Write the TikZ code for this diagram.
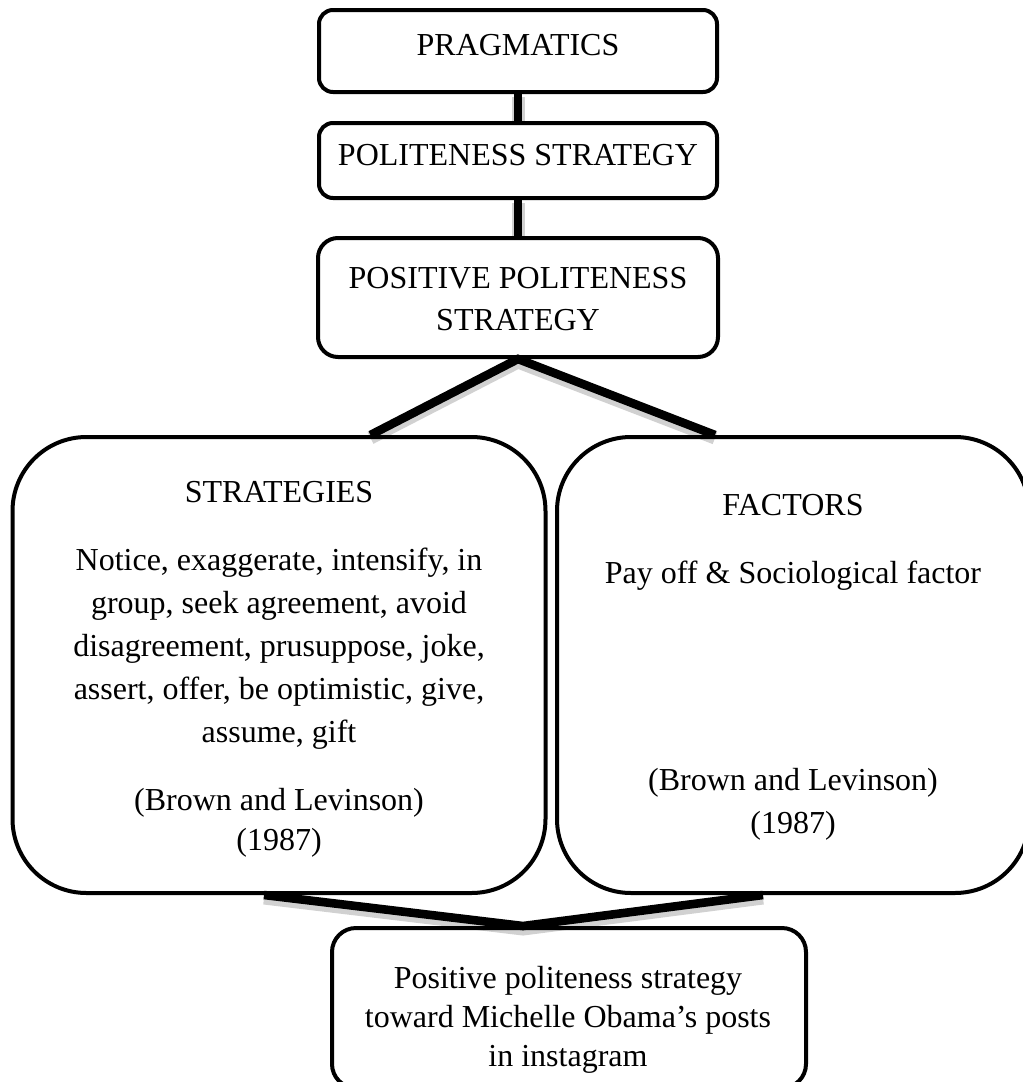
\documentclass[tikz,border=0pt]{standalone}
\usepackage{fontspec}
\setmainfont{Liberation Serif}
\usetikzlibrary{positioning}

\begin{document}
\begin{tikzpicture}[x=0.5pt,y=-0.5pt,
  stage/.style={draw,line width=2pt,rounded corners=7pt,inner sep=0pt},
  panel/.style={draw,line width=2pt,rounded corners=37pt,inner sep=0pt},
  link/.style={line width=4.3pt,line join=miter,
    preaction={draw,black,opacity=0.18,line width=6.5pt,transform canvas={yshift=-1.5pt}}},
  lbl/.style={font=\fontsize{16}{21}\selectfont,align=center,inner sep=0pt}]
  \useasboundingbox (0,0) rectangle (1023,1082);
  \clip (0,0) rectangle (1023,1082);
  % boxes (coordinates in pixels of the 1023x1082 page)
  \node[stage,minimum width=199pt,minimum height=41pt] (prag) at (518,51) {};
  \node[stage,minimum width=199pt,minimum height=37.5pt] (pol) at (518,160.5) {};
  \node[stage,rounded corners=10pt,minimum width=200pt,minimum height=59.5pt] (pos) at (518,297.5) {};
  \node[panel,minimum width=266.5pt,minimum height=228pt] (strat) at (279,665) {};
  \node[panel,minimum width=236pt,minimum height=228pt] (fact) at (793,665) {};
  \node[stage,rounded corners=12pt,minimum width=237pt,minimum height=80pt] (res) at (569,1008) {};
  % texts
  \node[lbl,anchor=base] (pragT) at (518,55) {PRAGMATICS};
  \node[lbl,anchor=base] (polT) at (518,165) {POLITENESS STRATEGY};
  \node[lbl,anchor=north] (posT) at (518,267) {POSITIVE POLITENESS\\STRATEGY};
  \node[lbl,anchor=base] (stratT) at (279,502) {STRATEGIES};
  \node[lbl,anchor=north,font=\fontsize{16}{21.5}\selectfont] (stratB) at (279,548)
    {Notice, exaggerate, intensify, in\\group, seek agreement, avoid\\disagreement, prusuppose, joke,\\assert, offer, be optimistic, give,\\assume, gift};
  \node[lbl,anchor=north,font=\fontsize{16}{20}\selectfont] (stratR) at (279,788) {(Brown and Levinson)\\(1987)};
  \node[lbl,anchor=base] (factT) at (793,515) {FACTORS};
  \node[lbl,anchor=base] (factB) at (793,583) {Pay off \& Sociological factor};
  \node[lbl,anchor=north,font=\fontsize{16}{21.5}\selectfont] (factR) at (793,768) {(Brown and Levinson)\\(1987)};
  \node[lbl,anchor=north,font=\fontsize{16}{19.5}\selectfont] (resT) at (568,966)
    {Positive politeness strategy\\toward Michelle Obama’s posts\\in instagram};
  % connectors
  \coordinate (sL) at ([xshift=-88.5pt]strat.north east);
  \coordinate (sR) at ([xshift=80pt]fact.north west);
  \coordinate (bL) at ([xshift=-7.5pt]strat.south);
  \coordinate (bR) at ([xshift=-15pt]fact.south);
  \coordinate (bA) at ([xshift=-23pt]res.north);
  \draw[link] (prag) -- (pol);
  \draw[link] (pol) -- (pos);
  \draw[link] (sL) -- (pos.south) -- (sR);
  \draw[link] (bL) -- (bA) -- (bR);
\end{tikzpicture}
\end{document}
